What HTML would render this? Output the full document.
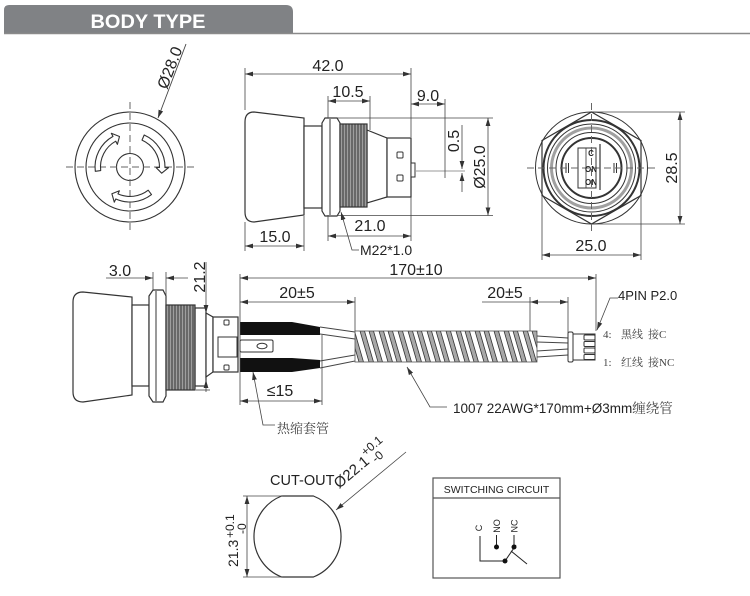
<!DOCTYPE html>
<html><head><meta charset="utf-8"><style>
html,body{margin:0;padding:0;background:#fff;}
svg{display:block;}
</style></head><body>
<svg width="750" height="596" viewBox="0 0 750 596" xmlns="http://www.w3.org/2000/svg" font-family="'Liberation Sans','Noto Sans CJK SC',sans-serif">
<defs>
<marker id="a" markerWidth="8" markerHeight="6" refX="8" refY="3" orient="auto-start-reverse" markerUnits="userSpaceOnUse"><path d="M0,0.6 L8,3 L0,5.4 z" fill="#333"/></marker>
<clipPath id="tube"><rect x="355" y="331" width="182" height="31"/></clipPath>
</defs>
<rect width="750" height="596" fill="#fff"/>

<!-- header -->
<path d="M4,33 V10 Q4,5 9,5 H286 Q293,5 293,12 V33 Z" fill="#808285"/>
<line x1="4" y1="33.5" x2="750" y2="33.5" stroke="#8a8a8a" stroke-width="1.5"/>
<text x="148" y="28" text-anchor="middle" font-size="19" font-weight="bold" fill="#fff" textLength="115" lengthAdjust="spacingAndGlyphs">BODY TYPE</text>

<!-- front view -->
<g fill="none" stroke="#333" stroke-width="1.1">
<circle cx="130" cy="167" r="55"/>
<circle cx="130" cy="167" r="44"/>
<circle cx="130" cy="167" r="13.5"/>
</g>
<g stroke="#666" stroke-width="1" stroke-dasharray="7,4">
<line x1="66" y1="167" x2="196" y2="167"/>
<line x1="130" y1="102" x2="130" y2="233"/>
</g>
<g fill="#fff" stroke="#333" stroke-width="1.1" stroke-linejoin="round">
<path d="M142.0,140.1 L144.2,135.0 A35,35 0 0 1 165.0,167.6 L168.5,167.7 L161.7,173.2 L156.0,167.5 L159.5,167.5 A29.5,29.5 0 0 0 142.0,140.1 Z"/>
<path d="M148.2,190.2 L151.5,194.6 A35,35 0 0 1 115.8,199.0 L114.3,202.2 L111.9,193.8 L119.4,190.8 L118.0,193.9 A29.5,29.5 0 0 0 148.2,190.2 Z"/>
<path d="M100.7,170.6 L95.3,171.3 A35,35 0 0 1 113.0,136.4 L111.3,133.3 L119.5,136.5 L117.4,144.3 L115.7,141.2 A29.5,29.5 0 0 0 100.7,170.6 Z"/>
</g>
<line x1="158" y1="118" x2="186" y2="44" stroke="#444" stroke-width="0.9" marker-start="url(#a)"/>
<text transform="translate(167,90) rotate(-69)" font-size="16" fill="#222">Ø28.0</text>

<!-- top side view -->
<g fill="#fff" stroke="#333" stroke-width="1.2">
<path d="M304,118 V215 L254,222 Q245,222 245,212 V122 Q245,112 254,112 Z"/>
<rect x="304" y="126" width="18" height="82"/>
<path d="M322,123 L325,118 H337 L340,123 V211 L337,216 H325 L322,211 Z"/>
<path d="M367,130 L387,138 V197 L367,203 Z"/>
<rect x="387" y="138" width="24" height="59"/>
<rect x="340" y="124" width="27" height="83" fill="#9e9e9e"/>
</g>
<g stroke="#333" stroke-width="1">
<line x1="330" y1="119" x2="330" y2="215"/>
<line x1="343" y1="124" x2="343" y2="207"/><line x1="346" y1="124" x2="346" y2="207"/><line x1="349" y1="124" x2="349" y2="207"/><line x1="352" y1="124" x2="352" y2="207"/><line x1="355" y1="124" x2="355" y2="207"/><line x1="358" y1="124" x2="358" y2="207"/><line x1="361" y1="124" x2="361" y2="207"/><line x1="364" y1="124" x2="364" y2="207"/>
</g>
<g fill="#fff" stroke="#333" stroke-width="1">
<rect x="397" y="152" width="6" height="6" rx="1"/>
<rect x="397" y="175" width="6" height="6" rx="1"/>
<rect x="411" y="163" width="4" height="14"/>
</g>
<line x1="415" y1="171" x2="465" y2="171" stroke="#999" stroke-width="1"/>

<g stroke="#444" stroke-width="0.8" fill="none">
<line x1="245" y1="68" x2="245" y2="110"/>
<line x1="411" y1="68" x2="411" y2="137"/>
<line x1="245" y1="74" x2="411" y2="74" marker-start="url(#a)" marker-end="url(#a)"/>
<line x1="328" y1="96" x2="328" y2="118"/>
<line x1="370" y1="96" x2="370" y2="130"/>
<line x1="328" y1="101" x2="370" y2="101" marker-start="url(#a)" marker-end="url(#a)"/>
<line x1="445" y1="99" x2="445" y2="178"/>
<line x1="411" y1="104" x2="445" y2="104" marker-start="url(#a)" marker-end="url(#a)"/>
<line x1="337" y1="118" x2="493" y2="118"/>
<line x1="337" y1="215.5" x2="493" y2="215.5"/>
<line x1="488" y1="118" x2="488" y2="215.5" marker-start="url(#a)" marker-end="url(#a)"/>
<line x1="462" y1="125" x2="462" y2="169" marker-end="url(#a)"/>
<line x1="462" y1="192" x2="462" y2="173" marker-end="url(#a)"/>
<line x1="328" y1="215" x2="328" y2="241"/>
<line x1="411" y1="197" x2="411" y2="241"/>
<line x1="328" y1="236" x2="411" y2="236" marker-start="url(#a)" marker-end="url(#a)"/>
<line x1="245" y1="222" x2="245" y2="251"/>
<line x1="304" y1="216" x2="304" y2="251"/>
<line x1="245" y1="246" x2="304" y2="246" marker-start="url(#a)" marker-end="url(#a)"/>
<polyline points="341,212 352,250 359,250" marker-start="url(#a)"/>
</g>
<g fill="#222" font-size="16" text-anchor="middle">
<text x="328" y="71">42.0</text>
<text x="348" y="97">10.5</text>
<text x="428" y="101">9.0</text>
<text transform="translate(459,141) rotate(-90)">0.5</text>
<text transform="translate(485,167) rotate(-90)">Ø25.0</text>
<text x="370" y="231">21.0</text>
<text x="275" y="242">15.0</text>
</g>
<text x="360" y="255" font-size="14" fill="#222">M22*1.0</text>

<!-- end view -->
<g fill="none" stroke="#333">
<circle cx="591.5" cy="168" r="56" stroke-width="1"/>
<polygon points="591.5,112 641,140.5 641,195.5 591.5,224 542,195.5 542,140.5" stroke-width="1.2"/>
<circle cx="591.5" cy="168" r="48" stroke-width="2"/>
<circle cx="591.5" cy="168" r="44" stroke-width="1"/>
<circle cx="591.5" cy="168" r="40" stroke="#a0a0a0" stroke-width="3"/>
<circle cx="591.5" cy="168" r="35.5" stroke-width="1"/>
<circle cx="591.5" cy="168" r="30" stroke-width="2"/>
<rect x="578" y="148" width="18" height="40" stroke-width="1"/>
<line x1="586" y1="148" x2="586" y2="188" stroke-width="0.8"/>
<line x1="600" y1="144" x2="600" y2="190" stroke-width="1.2"/>
<line x1="566" y1="163" x2="566" y2="173" stroke-width="1"/>
<line x1="568.5" y1="163" x2="568.5" y2="173" stroke-width="1"/>
<line x1="614" y1="163" x2="614" y2="173" stroke-width="1"/>
<line x1="616.5" y1="163" x2="616.5" y2="173" stroke-width="1"/>
</g>
<g stroke="#666" stroke-width="1" stroke-dasharray="7,4">
<line x1="527" y1="168" x2="656" y2="168"/>
<line x1="591.5" y1="103" x2="591.5" y2="232"/>
</g>
<g font-size="8" font-weight="bold" fill="#222" text-anchor="middle">
<text x="591" y="156">C</text>
<text x="591" y="172">ON</text>
<text x="591" y="185">ON</text>
</g>
<g stroke="#444" stroke-width="0.8" fill="none">
<line x1="592" y1="112" x2="685" y2="112"/>
<line x1="592" y1="224" x2="685" y2="224"/>
<line x1="680" y1="112" x2="680" y2="224" marker-start="url(#a)" marker-end="url(#a)"/>
<line x1="542" y1="196" x2="542" y2="260"/>
<line x1="641" y1="196" x2="641" y2="260"/>
<line x1="542" y1="255" x2="641" y2="255" marker-start="url(#a)" marker-end="url(#a)"/>
</g>
<g fill="#222" font-size="16" text-anchor="middle">
<text transform="translate(677,168) rotate(-90)">28.5</text>
<text x="591" y="251">25.0</text>
</g>

<!-- middle side view -->
<g fill="#fff" stroke="#333" stroke-width="1.2">
<path d="M132,297 V395 L83,402 Q73,402 73,392 V302 Q73,292 83,292 Z"/>
<rect x="132" y="305" width="17" height="81"/>
<path d="M149,296 L153,290 H163 L166,296 V396 L163,402 H153 L149,396 Z"/>
<rect x="195" y="308" width="11" height="78"/>
<path d="M206,313 L213,317 V372 L206,377 Z"/>
<rect x="213" y="317" width="25" height="55"/>
<rect x="166" y="305" width="29" height="85" fill="#9e9e9e"/>
</g>
<g stroke="#333" stroke-width="1">
<line x1="156" y1="291" x2="156" y2="401"/>
<line x1="169" y1="305" x2="169" y2="390"/><line x1="172" y1="305" x2="172" y2="390"/><line x1="175" y1="305" x2="175" y2="390"/><line x1="178" y1="305" x2="178" y2="390"/><line x1="181" y1="305" x2="181" y2="390"/><line x1="184" y1="305" x2="184" y2="390"/><line x1="187" y1="305" x2="187" y2="390"/><line x1="190" y1="305" x2="190" y2="390"/><line x1="193" y1="305" x2="193" y2="390"/>
</g>
<g fill="#fff" stroke="#333" stroke-width="1">
<rect x="218" y="337" width="19" height="20"/>
<rect x="224" y="320" width="5" height="5" rx="1"/>
<rect x="224" y="365" width="5" height="5" rx="1"/>
<rect x="240" y="340" width="33" height="12" rx="1.5"/>
<ellipse cx="262" cy="346" rx="5" ry="2.8"/>
</g>
<path d="M240,322 H292 L320,327 V335 H240 Z" fill="#111"/>
<path d="M240,358 H292 L320,360 V368 L292,372 H240 Z" fill="#111"/>
<g stroke="#444" stroke-width="0.9">
<line x1="320" y1="327" x2="355" y2="332"/>
<line x1="320" y1="334" x2="355" y2="339"/>
<line x1="320" y1="361" x2="355" y2="355"/>
<line x1="320" y1="368" x2="355" y2="361"/>
</g>
<g clip-path="url(#tube)">
<rect x="355" y="331" width="182" height="31" fill="#fff"/>
<path fill="#a8a8a8" stroke="#333" stroke-width="0.8" d="M350,331h4.5l9,31h-4.5Z M360,331h4.5l9,31h-4.5Z M369,331h4.5l9,31h-4.5Z M379,331h4.5l9,31h-4.5Z M388,331h4.5l9,31h-4.5Z M398,331h4.5l9,31h-4.5Z M408,331h4.5l9,31h-4.5Z M417,331h4.5l9,31h-4.5Z M427,331h4.5l9,31h-4.5Z M436,331h4.5l9,31h-4.5Z M446,331h4.5l9,31h-4.5Z M456,331h4.5l9,31h-4.5Z M465,331h4.5l9,31h-4.5Z M475,331h4.5l9,31h-4.5Z M484,331h4.5l9,31h-4.5Z M494,331h4.5l9,31h-4.5Z M504,331h4.5l9,31h-4.5Z M513,331h4.5l9,31h-4.5Z M523,331h4.5l9,31h-4.5Z M532,331h4.5l9,31h-4.5Z"/>
</g>
<rect x="355" y="331" width="182" height="31" fill="none" stroke="#555" stroke-width="0.8"/>
<g stroke="#444" stroke-width="0.9">
<line x1="537" y1="336" x2="568" y2="338"/>
<line x1="537" y1="342" x2="568" y2="343"/>
<line x1="537" y1="351" x2="568" y2="349"/>
<line x1="537" y1="357" x2="568" y2="355"/>
</g>
<g fill="#fff" stroke="#333" stroke-width="1">
<rect x="568" y="332" width="5" height="30" rx="1.5"/>
<rect x="573" y="334" width="22" height="26"/>
<rect x="584" y="335" width="11" height="5" rx="1"/>
<rect x="584" y="341.5" width="11" height="5" rx="1"/>
<rect x="584" y="348" width="11" height="5" rx="1"/>
<rect x="584" y="354.5" width="11" height="5" rx="1"/>
</g>

<g stroke="#444" stroke-width="0.8" fill="none">
<line x1="106" y1="278" x2="153" y2="278" marker-end="url(#a)"/>
<line x1="188" y1="278" x2="166" y2="278" marker-end="url(#a)"/>
<line x1="153" y1="272" x2="153" y2="291"/>
<line x1="166" y1="272" x2="166" y2="305"/>
<line x1="206" y1="262" x2="206" y2="313" marker-end="url(#a)"/>
<line x1="206" y1="392" x2="206" y2="380" marker-end="url(#a)"/>
<line x1="196" y1="390" x2="210" y2="390"/>
<line x1="240" y1="274" x2="240" y2="405"/>
<line x1="596" y1="274" x2="596" y2="331"/>
<line x1="240" y1="278" x2="596" y2="278" marker-start="url(#a)" marker-end="url(#a)"/>
<line x1="355" y1="297" x2="355" y2="331"/>
<line x1="240" y1="302" x2="355" y2="302" marker-start="url(#a)" marker-end="url(#a)"/>
<line x1="530" y1="297" x2="530" y2="331"/>
<line x1="568" y1="297" x2="568" y2="333"/>
<line x1="482" y1="302" x2="530" y2="302"/>
<line x1="530" y1="302" x2="568" y2="302" marker-start="url(#a)" marker-end="url(#a)"/>
<line x1="322" y1="335" x2="322" y2="405"/>
<line x1="240" y1="401" x2="322" y2="401" marker-start="url(#a)" marker-end="url(#a)"/>
<polyline points="597,330 610,298 618,298" marker-start="url(#a)"/>
<polyline points="407,367 430,407 447,407" marker-start="url(#a)"/>
<polyline points="253,372 263,425 275,425" marker-start="url(#a)"/>
</g>
<g fill="#222" font-size="16" text-anchor="middle">
<text x="120" y="276">3.0</text>
<text transform="translate(205,277) rotate(-90)">21.2</text>
<text x="416" y="275">170±10</text>
<text x="297" y="298">20±5</text>
<text x="505" y="298">20±5</text>
<text x="280" y="396">≤15</text>
</g>
<text x="618" y="300" font-size="13" fill="#222">4PIN P2.0</text>
<g font-size="11" fill="#444" font-family="'Liberation Serif','Noto Serif CJK SC',serif">
<text x="603" y="338">4:</text><text x="621" y="338">黑线</text><text x="648" y="338">接C</text>
<text x="603" y="366">1:</text><text x="621" y="366">红线</text><text x="648" y="366">接NC</text>
</g>
<text x="453" y="413" font-size="13.5" fill="#222">1007 22AWG*170mm+Ø3mm<tspan font-family="'Liberation Serif','Noto Serif CJK SC',serif" fill="#444">缠绕管</tspan></text>
<text x="277" y="433" font-size="13" fill="#444" font-family="'Liberation Serif','Noto Serif CJK SC',serif">热缩套管</text>

<!-- cut-out -->
<path d="M281.6,496 H313.4 A43.5,43.5 0 0 1 313.4,577 H281.6 A43.5,43.5 0 0 1 281.6,496 Z" fill="#fff" stroke="#333" stroke-width="1.2"/>
<g stroke="#444" stroke-width="0.8" fill="none">
<line x1="243" y1="496" x2="283" y2="496"/>
<line x1="243" y1="577" x2="283" y2="577"/>
<line x1="247" y1="496" x2="247" y2="577" marker-start="url(#a)" marker-end="url(#a)"/>
<line x1="336" y1="510" x2="406" y2="452" marker-start="url(#a)"/>
</g>
<g transform="translate(238,567) rotate(-90)" fill="#222">
<text x="0" y="0" font-size="14">21.3</text>
<text x="29" y="-4" font-size="12">+0.1</text>
<text x="33" y="8" font-size="12">-0</text>
</g>
<text x="270" y="485" font-size="14.5" fill="#222">CUT-OUT</text>
<g transform="translate(339,489) rotate(-40)" fill="#222">
<text x="0" y="0" font-size="15">Ø22.1</text>
<text x="41" y="-8" font-size="12">+0.1</text>
<text x="45" y="4" font-size="12">-0</text>
</g>

<!-- switching circuit -->
<rect x="433" y="478" width="127" height="100" fill="none" stroke="#555" stroke-width="1.2"/>
<line x1="433" y1="498" x2="560" y2="498" stroke="#555" stroke-width="1.2"/>
<text x="496.5" y="493" font-size="10.5" text-anchor="middle" fill="#222">SWITCHING CIRCUIT</text>
<g font-size="9" fill="#222" text-anchor="middle">
<text transform="translate(482,528) rotate(-90)">C</text>
<text transform="translate(500,526) rotate(-90)">NO</text>
<text transform="translate(517.5,526) rotate(-90)">NC</text>
</g>
<g stroke="#222" stroke-width="1" fill="none">
<polyline points="480,536 480,561 505,561"/>
<line x1="496.5" y1="535" x2="496.5" y2="547"/>
<line x1="514" y1="535" x2="514" y2="547"/>
<line x1="505" y1="561" x2="516" y2="545"/>
<line x1="511" y1="551" x2="527" y2="564"/>
</g>
<g fill="#111">
<circle cx="496.5" cy="547" r="2.5"/>
<circle cx="514" cy="547" r="2.5"/>
<circle cx="505" cy="561" r="2.5"/>
</g>
</svg>
</body></html>
